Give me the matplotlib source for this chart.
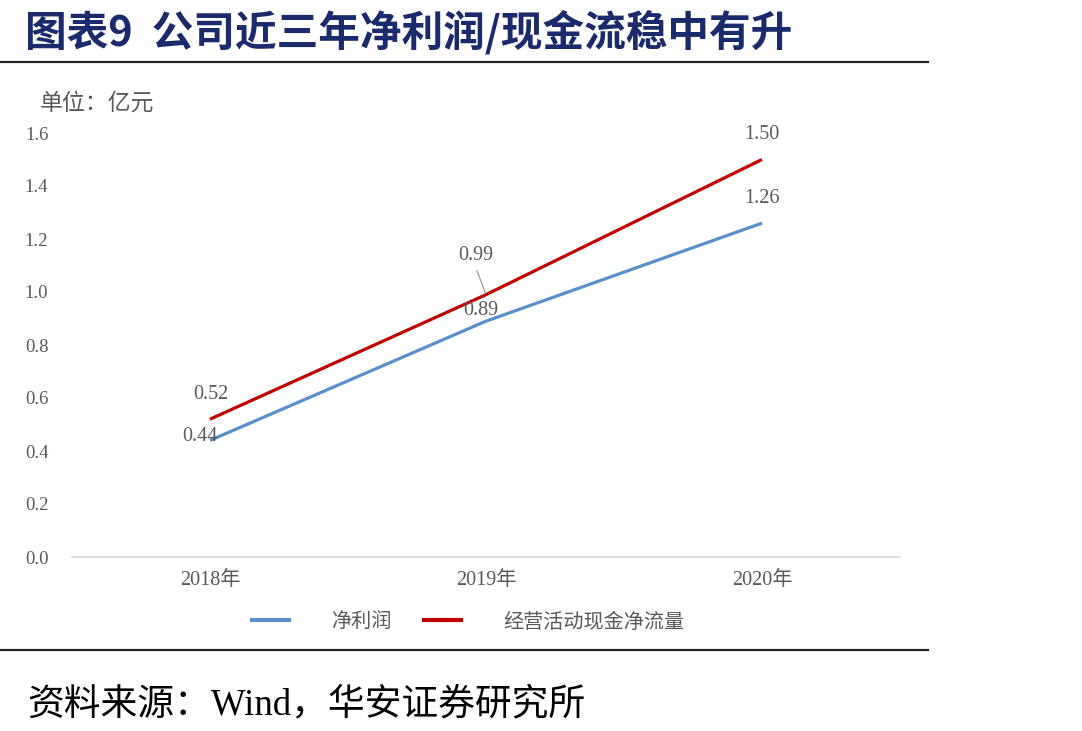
import matplotlib
matplotlib.use("Agg")
import matplotlib.pyplot as plt
from matplotlib.lines import Line2D

years = ["2018年", "2019年", "2020年"]
net_profit = [0.44, 0.89, 1.26]
op_cash = [0.52, 0.99, 1.50]
yticks = [0.0, 0.2, 0.4, 0.6, 0.8, 1.0, 1.2, 1.4, 1.6]
series_names = ["净利润", "经营活动现金净流量"]
title = "图表9  公司近三年净利润/现金流稳中有升"
unit = "单位：亿元"
source = "资料来源：Wind，华安证券研究所"

BLUE = "#5B8FCB"
RED = "#C00000"
GRAY = "#595959"
SERIF_CJK = ["Liberation Serif", "Noto Sans CJK SC"]
CJK = ["Noto Sans CJK SC", "DejaVu Sans"]

W, H = 1082, 731
fig = plt.figure(figsize=(W / 100, H / 100), dpi=100)

def fx(px):
    return px / W

def fy(py):
    return 1 - py / H

ax = fig.add_axes([fx(72), fy(557), fx(900) - fx(72), fy(133) - fy(557)])
x = list(range(len(years)))
ax.plot(x, net_profit, color=BLUE, lw=2.3, solid_capstyle="butt", zorder=3)
ax.plot(x, op_cash, color=RED, lw=2.3, solid_capstyle="butt", zorder=3)
ax.set_xlim(-0.5, len(years) - 0.5)
ax.set_ylim(0, 1.6)
ax.set_yticks(yticks)
ax.set_yticklabels([f"{v:.1f}" for v in yticks], family=SERIF_CJK, fontsize=13.5, color=GRAY)
ax.set_xticks(x)
ax.set_xticklabels(years, family=SERIF_CJK, fontsize=14.5, color=GRAY)
ax.tick_params(axis="y", length=0, pad=17)
ax.tick_params(axis="x", length=0, pad=10)
for s in ["top", "right", "left"]:
    ax.spines[s].set_visible(False)
ax.spines["bottom"].set_color("#D9D9D9")
ax.spines["bottom"].set_linewidth(1.2)

def lab(xi, yv, dx, dy, txt):
    ax.annotate(txt, (xi, yv), xytext=(dx, dy), textcoords="offset pixels",
                ha="center", va="center", family=SERIF_CJK, fontsize=14.5,
                color=GRAY, zorder=4)

lab(0, op_cash[0], 1, 25, f"{op_cash[0]:.2f}")
lab(0, net_profit[0], -10, 4, f"{net_profit[0]:.2f}")
lab(1, op_cash[1], -10, 39, f"{op_cash[1]:.2f}")
lab(1, net_profit[1], -5, 11, f"{net_profit[1]:.2f}")
lab(2, op_cash[2], 0, 25, f"{op_cash[2]:.2f}")
lab(2, net_profit[2], 0, 25, f"{net_profit[2]:.2f}")
# leader line for 0.99
ax.annotate("", (1, op_cash[1]), xytext=(-9, 24), textcoords="offset pixels",
            arrowprops=dict(arrowstyle="-", color="#8C8C8C", lw=0.8, shrinkA=0, shrinkB=1))

handles = [Line2D([], [], color=BLUE, lw=3), Line2D([], [], color=RED, lw=3)]
leg = fig.legend(handles, series_names, loc="center left",
                 bbox_to_anchor=(fx(234), fy(622)), ncol=2, frameon=False,
                 handlelength=1.84, handletextpad=2.1, columnspacing=1.6,
                 prop={"family": CJK, "size": 14.5})
for t in leg.get_texts():
    t.set_color(GRAY)

fig.text(fx(25), fy(32), title, family=CJK, fontsize=30, fontweight="bold",
         color="#1B2A6B", ha="left", va="center")
fig.text(fx(40), fy(103), unit, family=CJK, fontsize=16.5, color=GRAY,
         ha="left", va="center")
fig.text(fx(27), fy(705), source, family=["Liberation Serif", "Noto Sans CJK SC"],
         fontsize=26.5, color="black", ha="left", va="center")

fig.add_artist(Line2D([0, fx(928)], [fy(62), fy(62)], color="#222222", lw=1.6))
fig.add_artist(Line2D([0, fx(928)], [fy(650), fy(650)], color="#222222", lw=1.6))

fig.savefig("out.png", dpi=100, facecolor="white")
